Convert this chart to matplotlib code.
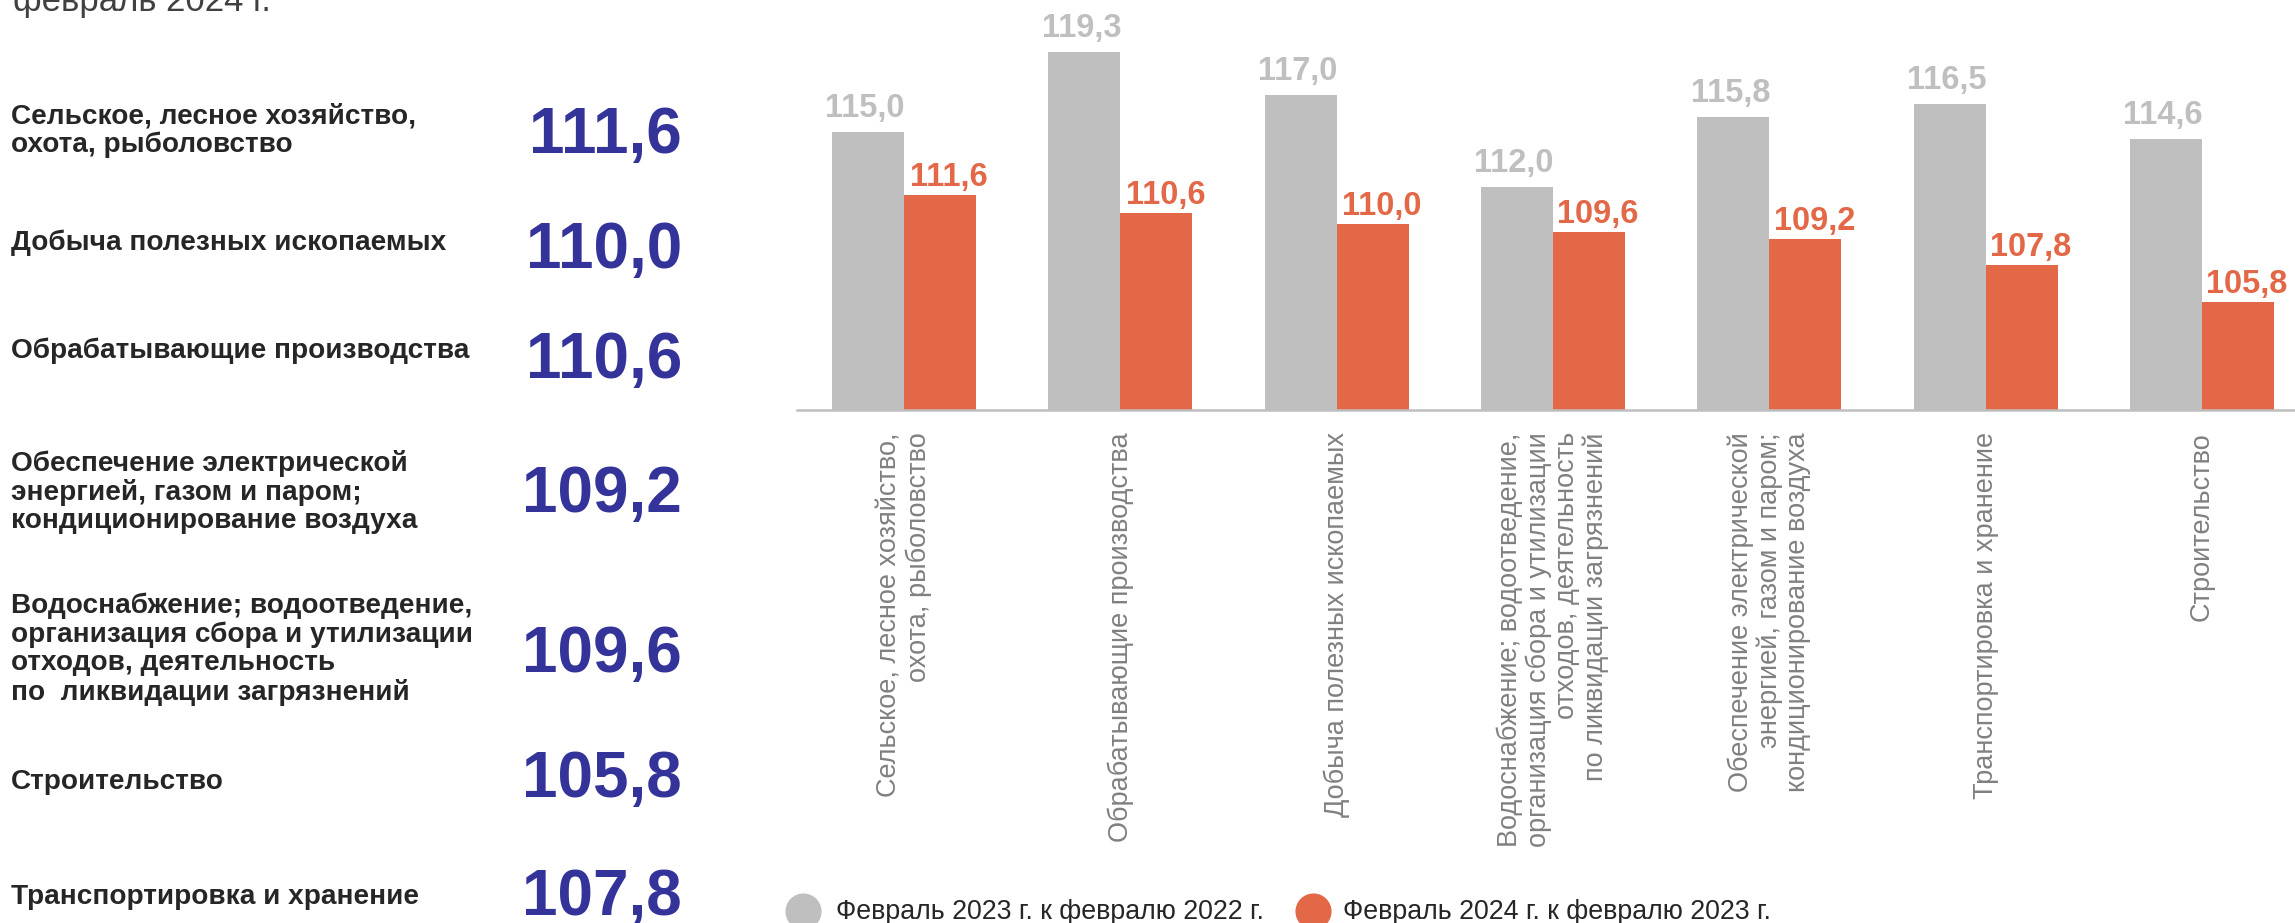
import matplotlib
matplotlib.use("Agg")
import matplotlib.pyplot as plt
from matplotlib.lines import Line2D
import numpy as np

plt.rcParams['font.family'] = ['Liberation Sans', 'DejaVu Sans']

# ── data ──────────────────────────────────────────────────────────────
categories = [
    "Сельское, лесное хозяйство,\nохота, рыболовство",
    "Обрабатывающие производства",
    "Добыча полезных ископаемых",
    "Водоснабжение; водоотведение,\nорганизация сбора и утилизации\nотходов, деятельность\nпо ликвидации загрязнений",
    "Обеспечение электрической\nэнергией, газом и паром;\nкондиционирование воздуха",
    "Транспортировка и хранение",
    "Строительство",
]
feb23_vs_feb22 = [115.0, 119.3, 117.0, 112.0, 115.8, 116.5, 114.6]
feb24_vs_feb23 = [111.6, 110.6, 110.0, 109.6, 109.2, 107.8, 105.8]
series_names = ["Февраль 2023 г. к февралю 2022 г.",
                "Февраль 2024 г. к февралю 2023 г."]

side_labels = [
    "Сельское, лесное хозяйство,\nохота, рыболовство",
    "Добыча полезных ископаемых",
    "Обрабатывающие производства",
    "Обеспечение электрической\nэнергией, газом и паром;\nкондиционирование воздуха",
    "Водоснабжение; водоотведение,\nорганизация сбора и утилизации\nотходов, деятельность\nпо  ликвидации загрязнений",
    "Строительство",
    "Транспортировка и хранение",
]
side_values = [111.6, 110.0, 110.6, 109.2, 109.6, 105.8, 107.8]

GRAY = "#bfbfbf"
ORANGE = "#e36847"
NAVY = "#33339a"
W, H = 2295, 923

def fmt(v):
    return f"{v:.1f}".replace(".", ",")

fig = plt.figure(figsize=(W / 100, H / 100), dpi=100)
fig.patch.set_facecolor("white")

# ── left column ───────────────────────────────────────────────────────
fig.text(13 / W, 1 - 11 / H, "февраль 2024 г.", fontsize=25,
         color="#404040", ha="left", va="baseline")

label_y = [131, 243, 351, 492, 649, 782, 897]      # px from top
value_base = [153, 268, 378, 512, 672, 797, 915]   # px from top
for lab, v, ly, vb in zip(side_labels, side_values, label_y, value_base):
    fig.text(11 / W, 1 - ly / H, lab, fontsize=20.2, fontweight="bold",
             color="#262626", ha="left", va="center", linespacing=1.12)
    fig.text(682 / W, 1 - vb / H, fmt(v), fontsize=46, fontweight="bold",
             color=NAVY, ha="right", va="baseline")

# ── bar chart ─────────────────────────────────────────────────────────
ax = fig.add_axes([797 / W, 1 - 410 / H, 1 - 797 / W, 410 / H])
x = np.arange(len(categories))
bw = 0.333
b1 = ax.bar(x - bw / 2, feb23_vs_feb22, bw, color=GRAY)
b2 = ax.bar(x + bw / 2, feb24_vs_feb23, bw, color=ORANGE)
ax.set_ylim(100, 122.1)
ax.set_xlim(-0.495, 6.43)

for rect, v in zip(b1, feb23_vs_feb22):
    ax.annotate(fmt(v), (rect.get_x() + rect.get_width() / 2, v),
                xytext=(-3, 8), textcoords="offset pixels",
                ha="center", va="bottom", fontsize=23.5, fontweight="bold",
                color=GRAY)
for rect, v in zip(b2, feb24_vs_feb23):
    ax.annotate(fmt(v), (rect.get_x() + rect.get_width() / 2, v),
                xytext=(9, 2), textcoords="offset pixels",
                ha="center", va="bottom", fontsize=23.5, fontweight="bold",
                color=ORANGE)

for s in ["top", "right", "left"]:
    ax.spines[s].set_visible(False)
ax.spines["bottom"].set_color(GRAY)
ax.spines["bottom"].set_linewidth(1.8)
ax.set_yticks([])
ax.set_xticks(x)
ax.set_xticklabels(categories, rotation=90, fontsize=19.5, color="#808080",
                   ha="center", va="top", multialignment="right",
                   linespacing=1.12)
ax.tick_params(axis="x", length=0, pad=16)
ax.set_facecolor("none")

# ── legend ────────────────────────────────────────────────────────────
for cx, tx, col, name in [(803, 836, GRAY, series_names[0]),
                          (1313, 1343, ORANGE, series_names[1])]:
    fig.add_artist(Line2D([cx / W], [1 - 911 / H], marker="o",
                          markersize=25, color=col, linestyle="none",
                          transform=fig.transFigure))
    fig.text(tx / W, 1 - 912 / H, name, fontsize=19.3, color="#262626",
             ha="left", va="center")

fig.savefig("out.png", dpi=100, facecolor="white")
plt.close(fig)
